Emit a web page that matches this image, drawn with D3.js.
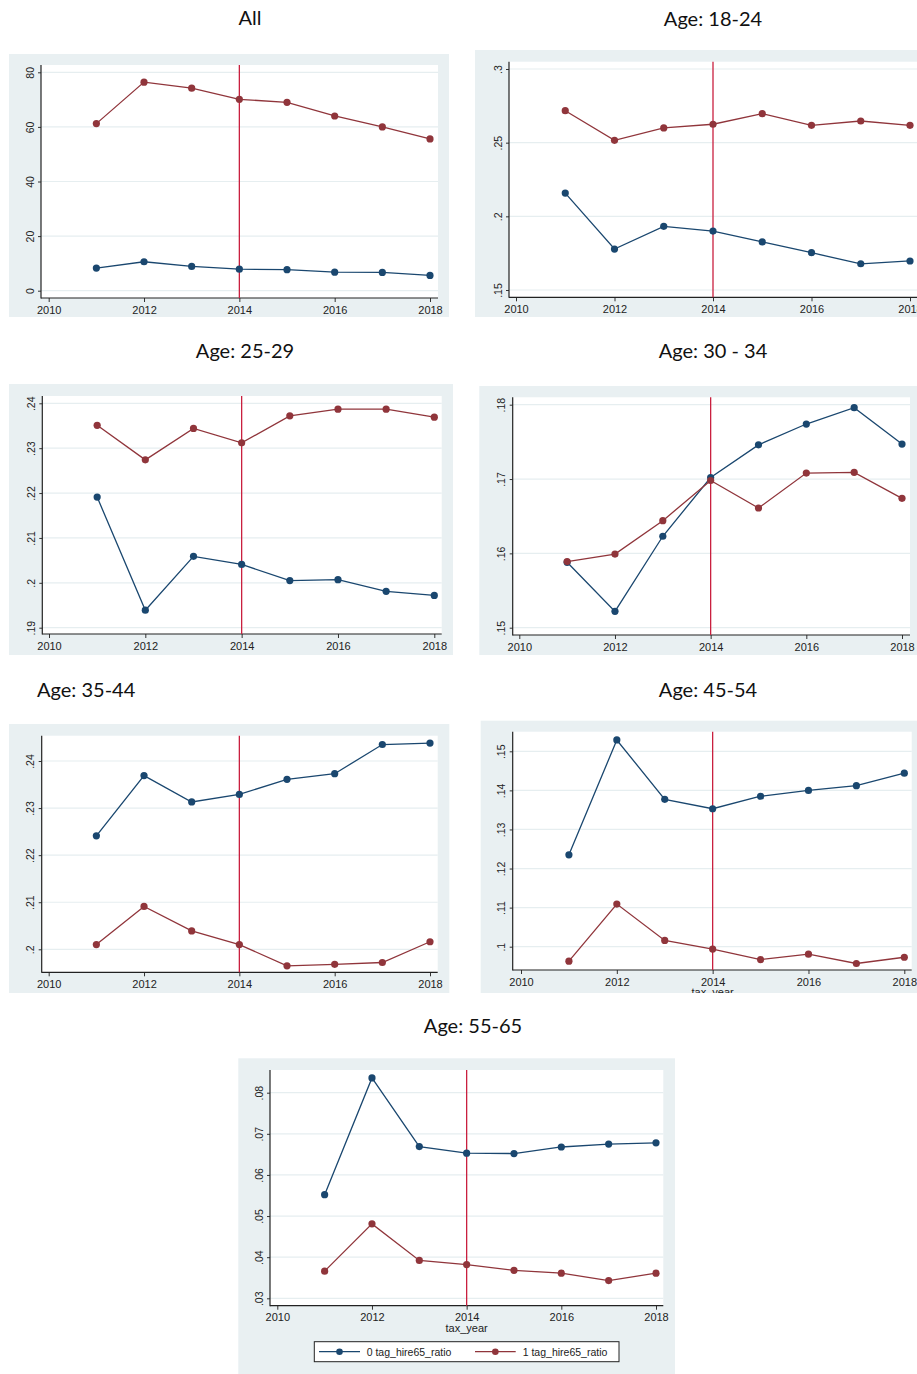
<!DOCTYPE html>
<html><head><meta charset="utf-8">
<script src="https://cdn.jsdelivr.net/npm/d3@7"></script>
<style>body{margin:0;background:#fff;} svg{display:block}</style>
</head><body><svg id="c" width="917" height="1374"></svg>
<script>
// ---------- data ----------
const years = [2011,2012,2013,2014,2015,2016,2017,2018];
const xTicks = [2010,2012,2014,2016,2018];
const policyYear = 2014;
const seriesNames = ["0 tag_hire65_ratio","1 tag_hire65_ratio"];
const xTitle = "tax_year";
const panelTitles = ["All","Age: 18-24","Age: 25-29","Age: 30 - 34","Age: 35-44","Age: 45-54","Age: 55-65"];

const all_0   = [8.3,10.6,8.9,7.9,7.7,6.8,6.7,5.6];
const all_1   = [61.2,76.4,74.2,70.1,69.0,64.0,60.0,55.6];
const a1824_0 = [.2158,.1778,.1932,.1900,.1826,.1753,.1678,.1697];
const a1824_1 = [.2717,.2516,.2600,.2625,.2697,.2618,.2647,.2618];
const a2529_0 = [.2191,.1939,.2059,.2041,.2005,.2007,.1981,.1972];
const a2529_1 = [.2351,.2274,.2344,.2312,.2372,.2387,.2387,.2369];
const a3034_0 = [.1588,.1522,.1623,.1702,.1746,.1774,.1796,.1747];
const a3034_1 = [.1589,.1599,.1644,.1698,.1661,.1708,.1709,.1674];
const a3544_0 = [.2241,.2369,.2313,.2329,.2361,.2373,.2435,.2438];
const a3544_1 = [.2010,.2091,.2039,.2010,.1965,.1968,.1972,.2016];
const a4554_0 = [.1235,.1529,.1377,.1353,.1385,.1400,.1412,.1444];
const a4554_1 = [.0963,.1109,.1016,.0994,.0967,.0981,.0957,.0973];
const a5565_0 = [.0552,.0836,.0669,.0653,.0652,.0668,.0675,.0678];
const a5565_1 = [.0366,.0481,.0392,.0382,.0368,.0361,.0343,.0361];

const yTicksAll  = [0,20,40,60,80];
const yTicks1824 = [.15,.2,.25,.3];
const yTicks2529 = [.19,.2,.21,.22,.23,.24];
const yTicks3034 = [.15,.16,.17,.18];
const yTicks3544 = [.2,.21,.22,.23,.24];
const yTicks4554 = [.1,.11,.12,.13,.14,.15];
const yTicks5565 = [.03,.04,.05,.06,.07,.08];

const panelSeries = [[all_0,all_1],[a1824_0,a1824_1],[a2529_0,a2529_1],[a3034_0,a3034_1],
                     [a3544_0,a3544_1],[a4554_0,a4554_1],[a5565_0,a5565_1]];
const panelTicks = [yTicksAll,yTicks1824,yTicks2529,yTicks3034,yTicks3544,yTicks4554,yTicks5565];
const showXTitle = [false,false,false,false,false,true,true];

// ---------- layout ----------
const layout = [
  {bg:[9,54,449,317],     plot:[41,65,438,298],        xr:[48.7,430],  yr:[290.7,72.3],  title:[250,25,"middle"]},
  {bg:[475,50,930,317],   plot:[509,61.7,930,297.3],   xr:[516,910],   yr:[290,69],      title:[713,26,"middle"]},
  {bg:[9,384,453,655],    plot:[42.3,396,441.7,634],   xr:[49,434.3],  yr:[627.7,403.3], title:[245,358,"middle"]},
  {bg:[479.3,386,930,655],plot:[512.7,397.3,910,635],  xr:[519.3,902], yr:[627.7,404.7], title:[713,358,"middle"]},
  {bg:[9,724,449.3,993],  plot:[41.7,735.7,437.7,972.3],xr:[48.7,430], yr:[949.3,761],   title:[37,697,"start"]},
  {bg:[480.7,720.7,930,993],plot:[512.7,731.7,911.7,970],xr:[521,904.3],yr:[946.7,751.3],title:[708,697,"middle"]},
  {bg:[238.3,1058.3,675,1380],plot:[270,1070,663.3,1305.7],xr:[277.3,656],yr:[1298.3,1092.7],title:[473,1033,"middle"]}
];

const colors = ["#1a476f","#90353b"];
const bgColor = "#e9f0f2";
const gridColor = "#e6eef0";
const vColor = "#c9203f";
const tickFont = "'Liberation Sans', Arial, sans-serif";
const titleFont = "Lato, 'Open Sans', sans-serif";

const svg = d3.select("#c");
const fmtY = v => String(+v.toFixed(4)).replace(/^0\./,".");

layout.forEach((L,i) => {
  const g = svg.append("g");
  const [bx0,by0,bx1,by1] = L.bg;
  const [px0,py0,px1,py1] = L.plot;
  const ticks = panelTicks[i];
  const x = d3.scaleLinear().domain([xTicks[0], xTicks[xTicks.length-1]]).range(L.xr);
  const y = d3.scaleLinear().domain([ticks[0], ticks[ticks.length-1]]).range(L.yr);

  const clipId = "clip"+i;
  svg.append("clipPath").attr("id",clipId).append("rect")
     .attr("x",bx0).attr("y",by0).attr("width",bx1-bx0).attr("height",by1-by0);

  g.append("rect").attr("x",bx0).attr("y",by0).attr("width",bx1-bx0).attr("height",by1-by0).attr("fill",bgColor);
  g.append("rect").attr("x",px0).attr("y",py0).attr("width",px1-px0).attr("height",py1-py0).attr("fill","#fff");

  // grid
  g.append("g").selectAll("line").data(ticks).join("line")
    .attr("x1",px0).attr("x2",px1).attr("y1",d=>y(d)).attr("y2",d=>y(d))
    .attr("stroke",gridColor).attr("stroke-width",1.2);

  // y axis
  const ya = g.append("g").attr("transform",`translate(${px0},0)`)
    .call(d3.axisLeft(y).tickValues(ticks).tickSize(3).tickSizeOuter(0).tickFormat(fmtY));
  ya.select(".domain").remove();
  ya.selectAll(".tick line").attr("stroke","#333");
  ya.selectAll(".tick text")
    .attr("x",null).attr("dy",null)
    .attr("transform","translate(-7.5,0) rotate(-90)")
    .attr("text-anchor","middle")
    .attr("font-family",tickFont).attr("font-size",10.5).attr("fill","#222");

  // x axis
  const xa = g.append("g").attr("transform",`translate(0,${py1})`)
    .call(d3.axisBottom(x).tickValues(xTicks).tickSize(4).tickSizeOuter(0).tickFormat(d3.format("d")));
  xa.select(".domain").remove();
  xa.selectAll(".tick line").attr("stroke","#333");
  xa.selectAll(".tick text").attr("y",15.5).attr("dy",null)
    .attr("font-family",tickFont).attr("font-size",11).attr("fill","#222");

  // axis lines
  g.append("line").attr("x1",px0).attr("x2",px0).attr("y1",py0).attr("y2",py1+0.5).attr("stroke","#222").attr("stroke-width",1.2);
  g.append("line").attr("x1",px0).attr("x2",px1).attr("y1",py1).attr("y2",py1).attr("stroke","#222").attr("stroke-width",1.2);

  // x title (clipped by panel background)
  if (showXTitle[i]) {
    g.append("text").attr("clip-path",`url(#${clipId})`)
      .attr("x",x(policyYear)).attr("y",py1+26).attr("text-anchor","middle")
      .attr("font-family",tickFont).attr("font-size",11).attr("fill","#222").text(xTitle);
  }

  // policy line
  g.append("line").attr("x1",x(policyYear)).attr("x2",x(policyYear)).attr("y1",py0).attr("y2",py1)
    .attr("stroke",vColor).attr("stroke-width",1.3);

  // series
  const line = d3.line().x((d,j)=>x(years[j])).y(d=>y(d));
  panelSeries[i].forEach((s,k) => {
    g.append("path").attr("d",line(s)).attr("fill","none").attr("stroke",colors[k]).attr("stroke-width",1.3);
    g.append("g").selectAll("circle").data(s).join("circle")
      .attr("cx",(d,j)=>x(years[j])).attr("cy",d=>y(d)).attr("r",3.6).attr("fill",colors[k]);
  });

  // panel title
  svg.append("text").attr("x",L.title[0]).attr("y",L.title[1]).attr("text-anchor",L.title[2])
    .attr("font-family",titleFont).attr("font-size",20).attr("fill","#111").text(panelTitles[i]);
});

// legend (last panel)
const leg = svg.append("g");
leg.append("rect").attr("x",314.3).attr("y",1341.7).attr("width",304.7).attr("height",20)
  .attr("fill","#fff").attr("stroke","#222").attr("stroke-width",1);
const legItems = [{x0:319,x1:360,tx:366.7},{x0:475,x1:515.7,tx:522.7}];
legItems.forEach((it,k) => {
  const cy = 1351.7;
  leg.append("line").attr("x1",it.x0).attr("x2",it.x1).attr("y1",cy).attr("y2",cy).attr("stroke",colors[k]).attr("stroke-width",1.3);
  leg.append("circle").attr("cx",(it.x0+it.x1)/2).attr("cy",cy).attr("r",3.3).attr("fill",colors[k]);
  leg.append("text").attr("x",it.tx).attr("y",cy+3.8).attr("font-family",tickFont).attr("font-size",10.5)
    .attr("fill","#222").text(seriesNames[k]);
});
</script></body></html>
